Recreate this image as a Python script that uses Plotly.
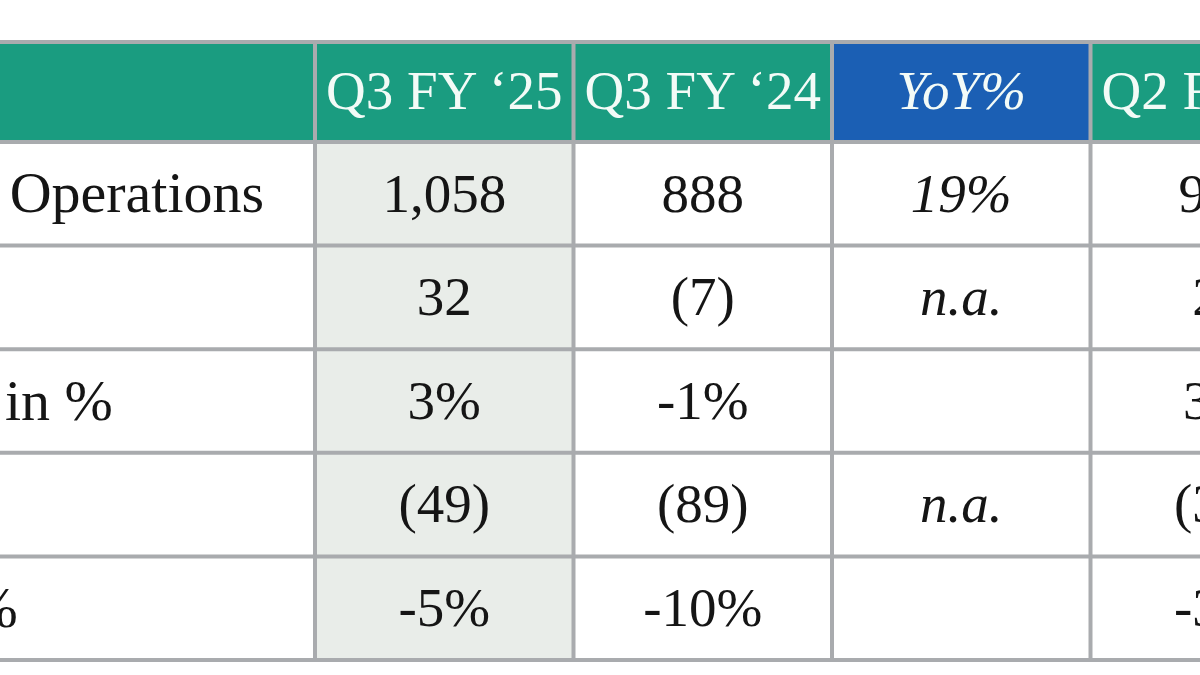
import plotly.graph_objects as go

# ---------------- data ----------------
headers = ["", "Q3 FY \u201825", "Q3 FY \u201824", "YoY%", "Q2 FY \u201825"]
row_labels = ["Revenue from Operations", "Adj. EBITDA", "Adj. EBITDA in %", "Net Profit", "Net Profit in %"]
q3_fy25 = ["1,058", "32", "3%", "(49)", "-5%"]
q3_fy24 = ["888", "(7)", "-1%", "(89)", "-10%"]
yoy_pct = ["19%", "n.a.", "", "n.a.", ""]
q2_fy25 = ["965", "29", "3%", "(31)", "-3%"]

columns = [row_labels, q3_fy25, q3_fy24, yoy_pct, q2_fy25]

# ---------------- layout geometry / style ----------------
W, H = 1200, 675
LABEL_LEFT = -360.0
LABEL_RIGHT = 315.0
COL_W = 258.5
TABLE_TOP = 42.0
HEADER_H = 100.0
ROW_H = 103.6
LABEL_PAD = 25.0
TEXT_DY = 4.0

GREEN = "#1a9c80"
BLUE = "#1b5fb4"
SHADE = "#e9ede9"
GRID = "#a9abae"
TEXT = "#151515"
HEAD_TEXT = "#f3fbf7"
FONT = "Liberation Serif"
FS_LABEL = 58
FS_VAL = 55
FS_HEAD = 55

n_rows = len(row_labels)
col_edges = [LABEL_LEFT, LABEL_RIGHT] + [LABEL_RIGHT + COL_W * k for k in range(1, len(columns))]
row_edges = [TABLE_TOP, TABLE_TOP + HEADER_H] + [TABLE_TOP + HEADER_H + ROW_H * k for k in range(1, n_rows + 1)]
col_centers = [(col_edges[i] + col_edges[i + 1]) / 2 for i in range(len(columns))]
row_centers = [(row_edges[i] + row_edges[i + 1]) / 2 + TEXT_DY for i in range(n_rows + 1)]

shapes = []
# cell fills
for ci in range(len(columns)):
    for ri in range(n_rows + 1):
        if ri == 0:
            fill = BLUE if headers[ci] == "YoY%" else GREEN
        else:
            fill = SHADE if ci == 1 else "white"
        shapes.append(dict(type="rect", xref="x", yref="y",
                           x0=col_edges[ci], x1=col_edges[ci + 1],
                           y0=row_edges[ri], y1=row_edges[ri + 1],
                           fillcolor=fill, line=dict(width=0), layer="below"))
# grid lines
for y in row_edges:
    shapes.append(dict(type="line", xref="x", yref="y", x0=col_edges[0], x1=col_edges[-1],
                       y0=y, y1=y, line=dict(color=GRID, width=4), layer="below"))
for x in col_edges[1:]:
    shapes.append(dict(type="line", xref="x", yref="y", x0=x, x1=x,
                       y0=row_edges[0], y1=row_edges[-1], line=dict(color=GRID, width=4), layer="below"))

fig = go.Figure()

# header texts
for ci in range(1, len(columns)):
    italic = headers[ci] == "YoY%"
    fig.add_trace(go.Scatter(
        x=[col_centers[ci]], y=[row_centers[0] - 1], text=[headers[ci]], mode="text",
        textposition="middle center", hoverinfo="skip", showlegend=False,
        textfont=dict(family=FONT, size=FS_HEAD, color=HEAD_TEXT, style="italic" if italic else "normal")))

# row labels (left aligned)
fig.add_trace(go.Scatter(
    x=[LABEL_LEFT + LABEL_PAD] * n_rows, y=row_centers[1:], text=row_labels, mode="text",
    textposition="middle right", hoverinfo="skip", showlegend=False,
    textfont=dict(family=FONT, size=FS_LABEL, color=TEXT)))

# value columns
for ci in range(1, len(columns)):
    italic = headers[ci] == "YoY%"
    fig.add_trace(go.Scatter(
        x=[col_centers[ci]] * n_rows, y=row_centers[1:], text=columns[ci], mode="text",
        textposition="middle center", hoverinfo="skip", showlegend=False,
        textfont=dict(family=FONT, size=FS_VAL, color=TEXT, style="italic" if italic else "normal")))

fig.update_layout(
    width=W, height=H,
    margin=dict(l=0, r=0, t=0, b=0),
    paper_bgcolor="white", plot_bgcolor="white",
    shapes=shapes,
    xaxis=dict(range=[0, W], visible=False, fixedrange=True),
    yaxis=dict(range=[H, 0], visible=False, fixedrange=True),
)

fig.write_html("out.html", config={"displayModeBar": False},
               post_script="document.body.style.margin='0px';document.body.style.overflow='hidden';")
